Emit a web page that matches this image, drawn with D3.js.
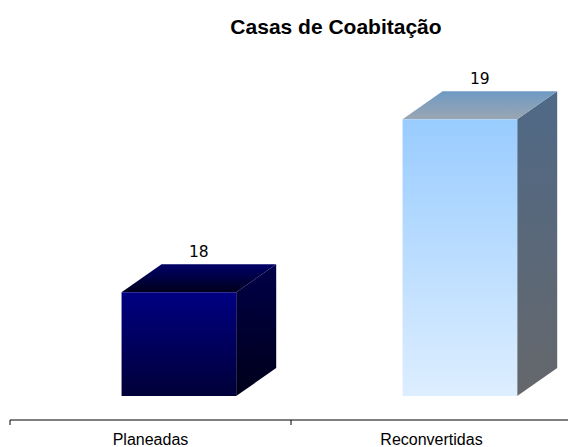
<!DOCTYPE html>
<html>
<head>
<meta charset="utf-8">
<script src="https://cdn.jsdelivr.net/npm/d3@7"></script>
<style>
  body { margin: 0; background: #fff; }
</style>
</head>
<body>
<div id="chart"></div>
<script>
const categories = ["Planeadas", "Reconvertidas"];
const values = [18, 19];
const yDomain = [17.4, 19];

const width = 568;
const height = 447;

const svg = d3.select("#chart")
  .append("svg")
  .attr("width", width)
  .attr("height", height);

const x = d3.scaleBand().domain(categories).range([10, 572]).padding(0);
const y = d3.scaleLinear().domain(yDomain).range([396, 119.3]);

const depthX = 40;
const depthY = -28;
const bw = x.bandwidth();

// colours per bar: front top/bottom, top back/front, side top/bottom
const palettes = [
  { front: ["#000082", "#000038"], top: ["#000068", "#00001c"], side: ["#000048", "#00001a"] },
  { front: ["#99ccff", "#ddeeff"], top: ["#6f9ac4", "#9aa6b2"], side: ["#4f6987", "#65676b"] }
];

const defs = svg.append("defs");
palettes.forEach((p, i) => {
  [["front", p.front], ["top", p.top], ["side", p.side]].forEach(([name, cols]) => {
    const g = defs.append("linearGradient")
      .attr("id", `g-${name}-${i}`)
      .attr("x1", "0%").attr("x2", "0%")
      .attr("y1", "0%").attr("y2", "100%");
    g.append("stop").attr("offset", "0%").style("stop-color", cols[0]);
    g.append("stop").attr("offset", "100%").style("stop-color", cols[1]);
  });
});

// Title
svg.append("text")
  .attr("x", 336)
  .attr("y", 34)
  .attr("text-anchor", "middle")
  .style("font-family", "Liberation Sans, Arial, sans-serif")
  .style("font-weight", "bold")
  .style("font-size", "21px")
  .text("Casas de Coabitação");

// Bars
const bars = svg.selectAll("g.bar")
  .data(values)
  .enter()
  .append("g")
  .attr("class", "bar");

bars.each(function (d, i) {
  const g = d3.select(this);
  const x0 = x(categories[i]) + bw * 0.397;
  const w = bw * 0.408;
  const y0 = y(d);
  const y1 = y(yDomain[0]);

  // side face
  g.append("path")
    .attr("d", `M${x0 + w},${y0} L${x0 + w + depthX},${y0 + depthY} L${x0 + w + depthX},${y1 + depthY} L${x0 + w},${y1} Z`)
    .style("fill", `url(#g-side-${i})`);

  // top face
  g.append("path")
    .attr("d", `M${x0},${y0} L${x0 + depthX},${y0 + depthY} L${x0 + w + depthX},${y0 + depthY} L${x0 + w},${y0} Z`)
    .style("fill", `url(#g-top-${i})`);

  // front face
  g.append("rect")
    .attr("x", x0)
    .attr("y", y0)
    .attr("width", w)
    .attr("height", y1 - y0)
    .style("fill", `url(#g-front-${i})`);

  // value label
  g.append("text")
    .attr("x", x0 + w / 2 + depthX / 2)
    .attr("y", y0 + depthY - 7)
    .attr("text-anchor", "middle")
    .style("font-family", "DejaVu Sans, Verdana, sans-serif")
    .style("font-size", "15.5px")
    .style("fill", "#000")
    .text(d);
});

// Category axis
const axisY = 420;
svg.append("line")
  .attr("x1", 10).attr("x2", 572)
  .attr("y1", axisY).attr("y2", axisY)
  .style("stroke", "#000")
  .style("stroke-width", 1);

const ticks = [x.range()[0], ...categories.slice(1).map(c => x(c))];
svg.selectAll("line.tick")
  .data(ticks)
  .enter()
  .append("line")
  .attr("class", "tick")
  .attr("x1", d => d).attr("x2", d => d)
  .attr("y1", axisY).attr("y2", axisY + 5)
  .style("stroke", "#000");

svg.selectAll("text.cat")
  .data(categories)
  .enter()
  .append("text")
  .attr("class", "cat")
  .attr("x", d => x(d) + bw / 2)
  .attr("y", 445)
  .attr("text-anchor", "middle")
  .style("font-family", "Liberation Sans, Arial, sans-serif")
  .style("font-size", "16px")
  .text(d => d);
</script>
</body>
</html>
